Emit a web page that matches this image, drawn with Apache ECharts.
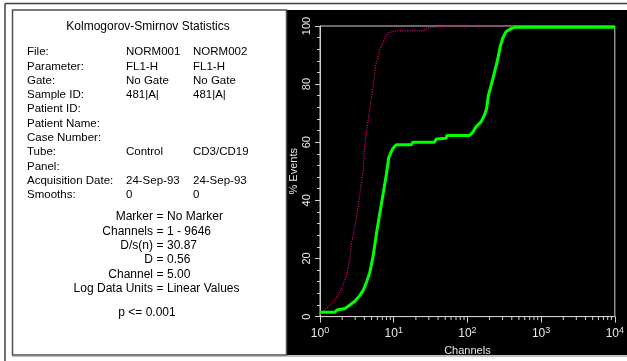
<!DOCTYPE html>
<html>
<head>
<meta charset="utf-8">
<script src="https://cdn.jsdelivr.net/npm/echarts@6/dist/echarts.min.js"></script>
<style>
html,body{margin:0;padding:0;background:#fff;}
#c{width:627px;height:361px;}
</style>
</head>
<body>
<div id="c"></div>
<script>
// ---- data ----
var titleText = 'Kolmogorov-Smirnov Statistics';
var statLabels = ['File:', 'Parameter:', 'Gate:', 'Sample ID:', 'Patient ID:', 'Patient Name:', 'Case Number:', 'Tube:', 'Panel:', 'Acquisition Date:', 'Smooths:'];
var file1Values = ['NORM001', 'FL1-H', 'No Gate', '481|A|', '', '', '', 'Control', '', '24-Sep-93', '0'];
var file2Values = ['NORM002', 'FL1-H', 'No Gate', '481|A|', '', '', '', 'CD3/CD19', '', '24-Sep-93', '0'];
var resultLabels = ['Marker', 'Channels', 'D/s(n)', 'D', 'Channel', 'Log Data Units'];
var resultValues = ['No Marker', '1 - 9646', '30.87', '0.56', '5.00', 'Linear Values'];
var pText = 'p <= 0.001';

var yTicks = [0, 20, 40, 60, 80, 100];
var xMinorTicks = [2,3,4,5,6,7,8,9,20,30,40,50,60,70,80,90,200,300,400,500,600,700,800,900,2000,3000,4000,5000,6000,7000,8000,9000];

var greenX = [1, 1.59, 1.7, 2.18, 2.54, 2.97, 3.47, 3.85, 4.27, 4.74, 5.26, 5.84, 6.47, 7.18, 7.96, 8.55, 9.1, 9.78, 10.85, 17.3, 18.2, 35.8, 37.8, 51.5, 52.5, 106, 118, 131, 153, 170, 182, 192, 209, 232, 257, 279, 300, 333, 390, 455, 10000];
var greenY = [1.5, 1.5, 2.3, 2.8, 4, 5.3, 7.3, 9, 11.8, 15.2, 20.8, 28.7, 35.5, 42.2, 49, 54.6, 56.3, 58, 59.1, 59.1, 60, 60, 61.1, 61.4, 62.3, 62.3, 63.4, 65.3, 67, 69.3, 71.5, 76, 79.4, 83.9, 88.4, 92.9, 95.7, 98, 99.1, 99.6, 99.6];

var magentaX = [1, 1.17, 1.59, 1.96, 2.29, 2.54, 2.68, 2.97, 3.23, 3.47, 3.73, 3.85, 3.97, 4.27, 4.74, 5.26, 5.66, 6.47, 7.55, 8.37, 10.3, 24.9, 29.1, 39.7, 60, 10000];
var magentaY = [0.8, 2.3, 5.6, 9.6, 14.1, 19.7, 25.3, 31, 36.6, 42.2, 47.9, 50.1, 56.9, 63.6, 71.5, 79.4, 86.1, 91.8, 95.7, 97.6, 98.3, 98.3, 99.3, 99.7, 100, 100];

// ---- build ----
function zip(a, b) { return a.map(function (v, i) { return [v, b[i]]; }); }
var FONT = "'Liberation Sans', Arial, sans-serif";
var axisTextColor = '#e8e8e8';
var frameColor = '#d0d0d0';

var graphics = [];
// outer frame
graphics.push({type:'line', shape:{x1:5, y1:3.5, x2:627, y2:3.5}, style:{stroke:'#404040', lineWidth:1.5}, silent:true});
graphics.push({type:'line', shape:{x1:5, y1:3.5, x2:5, y2:361}, style:{stroke:'#404040', lineWidth:1.5}, silent:true});
// left panel box
graphics.push({type:'rect', shape:{x:12.5, y:10, width:274, height:345}, style:{fill:'#fff', stroke:'#505050', lineWidth:1.5}, silent:true});
// black panel
graphics.push({type:'rect', shape:{x:286, y:10, width:341, height:345}, style:{fill:'#000'}, silent:true, z:-1});
graphics.push({type:'line', shape:{x1:12, y1:356, x2:627, y2:356}, style:{stroke:'#808080', lineWidth:1}, silent:true});

function txt(x, y, s, align, size) {
  graphics.push({type:'text', x:x, y:y, silent:true,
    style:{text:s, fill:'#000', font:(size || 11) + 'px ' + FONT, textAlign:align || 'left', textVerticalAlign:'middle'}});
}
txt(148, 27, titleText, 'center', 12);
var rowY0 = 52, rowStep = 14.33;
statLabels.forEach(function (l, i) {
  var y = rowY0 + i * rowStep;
  txt(27, y, l, 'left', 11.5);
  if (file1Values[i]) txt(126, y, file1Values[i], 'left', 11.5);
  if (file2Values[i]) txt(193, y, file2Values[i], 'left', 11.5);
});
var resY0 = 217, resStep = 14.3;
resultLabels.forEach(function (l, i) {
  var y = resY0 + i * resStep;
  txt(153, y, l, 'right', 12);
  txt(160, y, '=', 'center', 12);
  txt(167, y, resultValues[i], 'left', 12);
});
txt(147, 313, pText, 'center', 12);

var chart = echarts.init(document.getElementById('c'), null, {renderer:'canvas'});
chart.setOption({
  animation: false,
  backgroundColor: 'transparent',
  graphic: graphics,
  grid: {left: 320, top: 26, width: 296, height: 296, show: true, borderColor: frameColor, borderWidth: 1, backgroundColor: 'transparent'},
  xAxis: {
    type: 'log', logBase: 10, min: 1, max: 10000,
    name: 'Channels', nameLocation: 'middle', nameGap: 19,
    nameTextStyle: {color: axisTextColor, fontSize: 11, fontFamily: FONT},
    axisLine: {show: true, lineStyle: {color: frameColor, width: 1}},
    axisTick: {show: true, inside: false, length: 6, lineStyle: {color: frameColor}},
    splitLine: {show: false},
    axisLabel: {
      color: axisTextColor, margin: 9, fontFamily: FONT, fontSize: 12,
      formatter: function (v) { return '10{s|' + Math.round(Math.log10(v)) + '}'; },
      rich: {s: {fontSize: 9, fontFamily: FONT, color: axisTextColor, padding: [0, 0, 8, 0]}}
    }
  },
  yAxis: {
    type: 'value', min: 0, max: 100, interval: 20,
    name: '% Events', nameLocation: 'middle', nameGap: 21, nameRotate: 90,
    nameTextStyle: {color: axisTextColor, fontSize: 11, fontFamily: FONT},
    axisLine: {show: true, lineStyle: {color: frameColor, width: 1}},
    axisTick: {show: true, inside: false, length: 5, lineStyle: {color: frameColor}},
    minorTick: {show: true, splitNumber: 5, length: 3, lineStyle: {color: frameColor}},
    splitLine: {show: false},
    axisLabel: {color: axisTextColor, rotate: 90, margin: 8, fontFamily: FONT, fontSize: 11}
  },
  series: [
    {
      type: 'custom', silent: true, z: 1,
      data: xMinorTicks.map(function (v) { return [v, 0]; }),
      renderItem: function (params, api) {
        var p = api.coord([api.value(0), 0]);
        return {type: 'line', shape: {x1: p[0], y1: p[1], x2: p[0], y2: p[1] + 3.5}, style: {stroke: frameColor, lineWidth: 1}};
      },
      clip: false
    },
    {
      type: 'line', data: zip(magentaX, magentaY), showSymbol: false, z: 2,
      lineStyle: {color: '#d0007a', width: 1.2, type: 'dotted'}
    },
    {
      type: 'line', data: zip(greenX, greenY), showSymbol: false, z: 3,
      lineStyle: {color: '#00ff00', width: 3}
    }
  ]
});
</script>
</body>
</html>
